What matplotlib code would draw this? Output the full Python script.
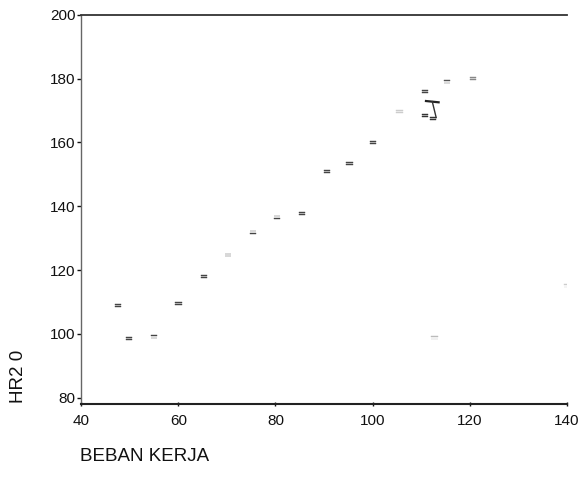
import matplotlib
matplotlib.use('Agg')
import matplotlib.pyplot as plt

# values
beban = [47.6, 49.9, 55.0, 60.0, 65.3, 70.2, 75.4, 80.3, 85.5, 90.6, 95.3, 100.1,
         105.6, 110.8, 112.4, 110.8, 115.3, 120.7, 112.8, 140.0]
hr = [108.8, 98.4, 99.0, 109.4, 118.0, 124.7, 131.9, 136.6, 137.8, 151.0, 153.4, 160.0,
      169.7, 168.4, 167.5, 176.0, 179.0, 180.0, 98.7, 115.0]
shade = ['#444444'] * 12 + ['#cccccc', '#333333', '#333333', '#444444', '#555555',
                            '#888888', '#bbbbbb', '#cccccc']
# the little "T" stroke near 112
bar_x = [111.0, 113.6]
bar_y = [173.0, 172.6]
stem_x = [112.3, 113.1]
stem_y = [172.8, 167.8]

xticks = [40, 60, 80, 100, 120, 140]
yticks = [80, 100, 120, 140, 160, 180, 200]

plt.rcParams['font.family'] = ['Liberation Sans', 'DejaVu Sans']

fig = plt.figure(figsize=(5.88, 4.82), dpi=100)
ax = fig.add_axes([0.138, 0.162, 0.826, 0.807])

ax.scatter(beban, hr, marker='$=$', s=22, c=shade, linewidths=0.3)
ax.plot(bar_x, bar_y, color='#222222', lw=1.6)
ax.plot(stem_x, stem_y, color='#333333', lw=1.0)

ax.set_xlim(40, 140)
ax.set_ylim(78, 200)
ax.set_xticks(xticks)
ax.set_yticks(yticks)
ax.tick_params(axis='both', labelsize=11, colors='#111111', length=3, width=1)
ax.tick_params(axis='y', direction='out', pad=1)
ax.tick_params(axis='x', direction='inout', pad=6)

ax.spines['right'].set_visible(False)
ax.spines['top'].set_linewidth(1.3)
ax.spines['top'].set_color('#333333')
ax.spines['bottom'].set_linewidth(1.5)
ax.spines['bottom'].set_color('#222222')
ax.spines['left'].set_linewidth(1.0)
ax.spines['left'].set_color('#666666')
ax.spines['left'].set_linestyle((0, (3, 1)))

fig.text(0.136, 0.035, 'BEBAN KERJA', fontsize=13.5, color='#111111', ha='left', va='bottom')
fig.text(0.032, 0.164, 'HR2 0', fontsize=13.5, color='#111111', rotation=90,
         ha='center', va='bottom')

fig.savefig('out.png', dpi=100)
